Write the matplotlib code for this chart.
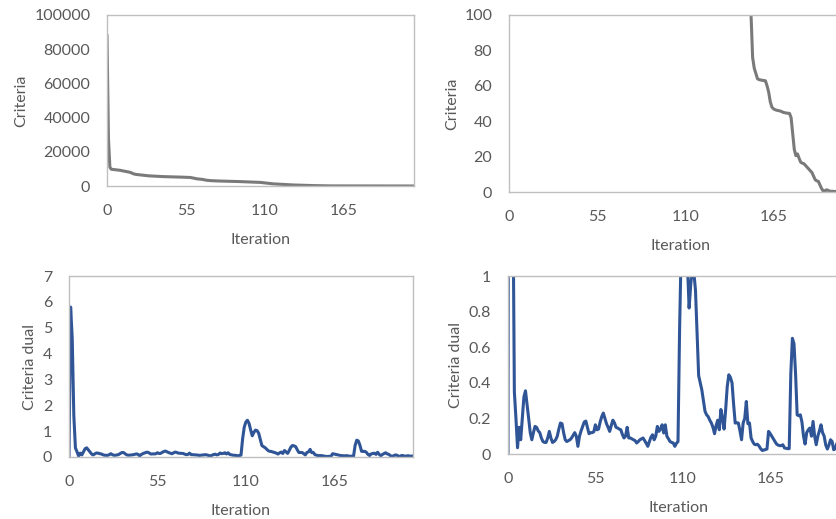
import matplotlib
matplotlib.use("Agg")
import matplotlib.pyplot as plt
from matplotlib.ticker import FuncFormatter

plt.rcParams['font.family'] = ['Lato', 'DejaVu Sans']

# objective value per iteration
criteria = [
    87900, 28000, 11000, 9800, 9700, 9600, 9500, 9400, 9300, 9200,
    9000, 8850, 8700, 8550, 8400, 8200, 8000, 7700, 7300, 7000,
    6800, 6700, 6600, 6500, 6400, 6300, 6200, 6100, 6000, 5950,
    5900, 5850, 5800, 5750, 5700, 5650, 5600, 5550, 5520, 5500,
    5480, 5450, 5420, 5400, 5380, 5350, 5320, 5300, 5280, 5250,
    5220, 5200, 5180, 5150, 5120, 5100, 5080, 5050, 5000, 4850,
    4700, 4500, 4300, 4150, 4100, 4000, 3900, 3800, 3600, 3400,
    3300, 3200, 3150, 3100, 3050, 3000, 2980, 2950, 2920, 2900,
    2870, 2850, 2820, 2800, 2780, 2750, 2730, 2710, 2700, 2680,
    2650, 2620, 2600, 2570, 2540, 2500, 2470, 2440, 2400, 2370,
    2340, 2300, 2270, 2240, 2200, 2170, 2140, 2100, 2000, 1900,
    1800, 1700, 1600, 1500, 1400, 1300, 1250, 1200, 1150, 1100,
    1050, 1000, 950, 900, 850, 800, 760, 720, 680, 640,
    600, 570, 540, 510, 480, 450, 420, 390, 360, 340,
    320, 300, 280, 260, 240, 220, 200, 180, 160, 140,
    125, 100, 76, 70, 67, 64, 63.5, 63.3, 63.1, 63,
    62.8, 60, 56.5, 51, 48, 47, 46.5, 46.2, 46, 45.8,
    45.5, 45, 44.8, 44.6, 44.5, 44.4, 42, 33, 24, 20.5,
    21.5, 19, 16.8, 16.3, 16, 15, 14, 13, 12, 11,
    9, 7, 6.3, 6, 4, 2, 0.6, 0.5, 1.2, 1.0,
    0.5, 0.4, 0.4, 0.3, 0.3, 0.3, 0.3, 0.2, 0.2, 0.2,
    0.2, 0.2, 0.2, 0.2, 0.2,
]

# dual criterion per iteration
criteria_dual = [
    0, 5.8, 4.6, 1.6, 0.35, 0.2, 0.035, 0.15, 0.08, 0.2,
    0.32, 0.355, 0.28, 0.2, 0.12, 0.08, 0.12, 0.155, 0.15, 0.13,
    0.12, 0.09, 0.07, 0.065, 0.065, 0.09, 0.127, 0.09, 0.065, 0.07,
    0.08, 0.1, 0.14, 0.174, 0.17, 0.12, 0.08, 0.07, 0.075, 0.08,
    0.09, 0.105, 0.12, 0.1, 0.043, 0.1, 0.13, 0.155, 0.18, 0.185,
    0.15, 0.114, 0.12, 0.12, 0.125, 0.164, 0.136, 0.14, 0.18, 0.21,
    0.23, 0.2, 0.17, 0.15, 0.127, 0.16, 0.19, 0.175, 0.15, 0.146,
    0.14, 0.136, 0.11, 0.09, 0.1, 0.15, 0.09, 0.09, 0.085, 0.08,
    0.075, 0.062, 0.07, 0.08, 0.085, 0.09, 0.075, 0.06, 0.043, 0.07,
    0.095, 0.108, 0.08, 0.1, 0.155, 0.127, 0.14, 0.164, 0.118, 0.164,
    0.1, 0.085, 0.07, 0.065, 0.062, 0.043, 0.06, 0.07, 0.7, 1.15,
    1.35, 1.42, 1.3, 1.05, 0.82, 0.95, 1.04, 1.02, 0.92, 0.68,
    0.44, 0.4, 0.36, 0.3, 0.24, 0.22, 0.21, 0.19, 0.174, 0.15,
    0.114, 0.16, 0.19, 0.136, 0.25, 0.2, 0.14, 0.25, 0.38, 0.445,
    0.43, 0.4, 0.28, 0.174, 0.175, 0.174, 0.13, 0.08, 0.174, 0.2,
    0.295, 0.17, 0.174, 0.09, 0.07, 0.055, 0.052, 0.055, 0.045, 0.03,
    0.02, 0.022, 0.025, 0.028, 0.127, 0.115, 0.1, 0.085, 0.07, 0.056,
    0.05, 0.047, 0.047, 0.052, 0.034, 0.032, 0.03, 0.03, 0.45, 0.65,
    0.62, 0.45, 0.22, 0.215, 0.22, 0.18, 0.1, 0.056, 0.12, 0.136,
    0.146, 0.1, 0.183, 0.1, 0.052, 0.1, 0.13, 0.164, 0.12, 0.1,
    0.05, 0.028, 0.05, 0.08, 0.07, 0.024, 0.03, 0.06, 0.05, 0.03,
    0.04, 0.05, 0.03, 0.035, 0.04,
]

iterations = list(range(len(criteria)))
x_ticks = [0, 55, 110, 165]

TEXT = '#595959'
FRAME = '#BFBFBF'
GRAY_LINE = '#7A7A7A'
BLUE_LINE = '#2F5597'
FS = 11.5

W, H = 837, 519
fig = plt.figure(figsize=(W / 100, H / 100), dpi=100)


def make_axes(left, right, top, bottom):
    return fig.add_axes([left / W, (H - bottom) / H, (right - left) / W, (bottom - top) / H])


def style(ax, ylim, yticks, ylabel, fmt=None):
    ax.set_xlim(0, len(iterations) - 1)
    ax.set_ylim(*ylim)
    ax.set_xticks(x_ticks)
    ax.set_yticks(yticks)
    if fmt:
        ax.yaxis.set_major_formatter(FuncFormatter(fmt))
    ax.tick_params(length=0, labelsize=FS, labelcolor=TEXT)
    ax.tick_params(axis='x', pad=13)
    ax.tick_params(axis='y', pad=12)
    for s in ax.spines.values():
        s.set_color(FRAME)
        s.set_linewidth(1)
    ax.set_xlabel('Iteration', fontsize=FS, color=TEXT, labelpad=11)
    ax.set_ylabel(ylabel, fontsize=FS, color=TEXT, labelpad=4)


ax1 = make_axes(107, 414, 15, 186)
ax1.plot(iterations, criteria, color=GRAY_LINE, lw=2.2, solid_joinstyle='round')
style(ax1, (0, 100000), range(0, 100001, 20000), 'Criteria')

ax2 = make_axes(509, 852, 15, 192)
ax2.plot(iterations, criteria, color=GRAY_LINE, lw=2.2, solid_joinstyle='round')
style(ax2, (0, 100), range(0, 101, 20), 'Criteria')

ax3 = make_axes(69, 413, 276, 457)
ax3.plot(iterations, criteria_dual, color=BLUE_LINE, lw=2.2, solid_joinstyle='round')
style(ax3, (0, 7), range(0, 8), 'Criteria dual')

ax4 = make_axes(508, 848, 276, 454)
ax4.plot(iterations, criteria_dual, color=BLUE_LINE, lw=2.2, solid_joinstyle='round')
style(ax4, (0, 1), [0, 0.2, 0.4, 0.6, 0.8, 1.0], 'Criteria dual',
      fmt=lambda v, p: f'{v:g}')

fig.savefig('out.png', dpi=100)
